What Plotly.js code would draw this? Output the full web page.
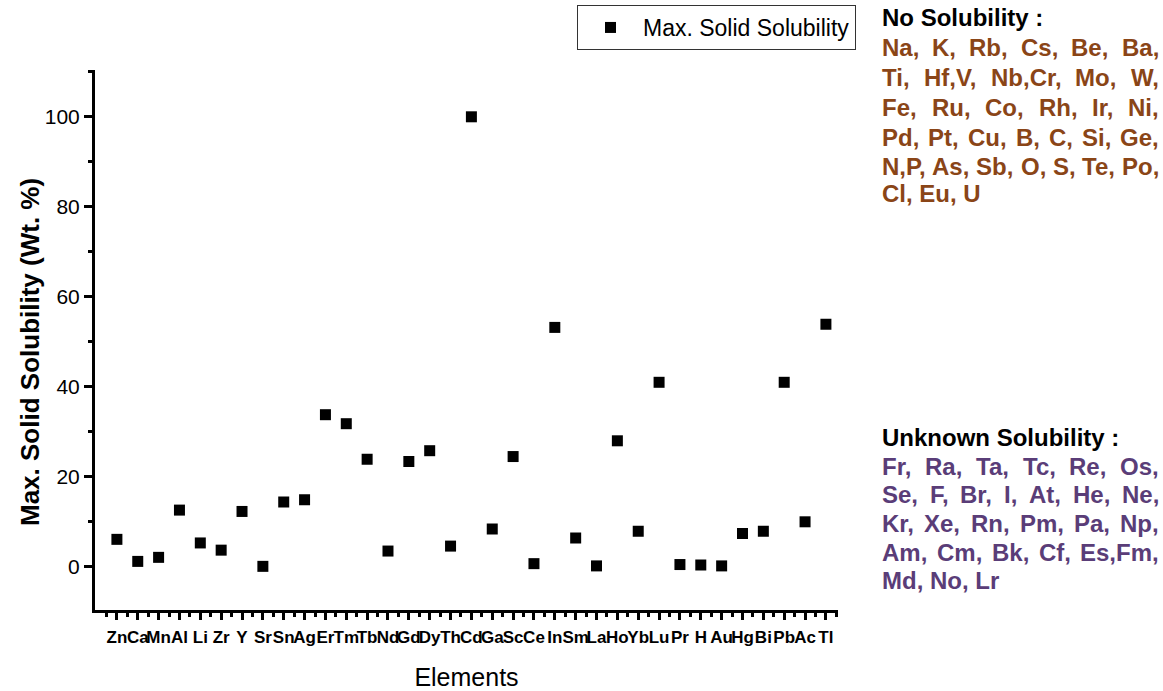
<!DOCTYPE html>
<html>
<head>
<meta charset="utf-8">
<script src="https://cdn.plot.ly/plotly-3.0.1.min.js"></script>
<style>html,body{margin:0;padding:0;background:#fff;}#chart{width:1163px;height:691px;}</style>
</head>
<body>
<div id="chart"></div>
<script>
// Data
const categories = ["Zn","Ca","Mn","Al","Li","Zr","Y","Sr","Sn","Ag","Er","Tm","Tb","Nd","Gd","Dy","Th","Cd","Ga","Sc","Ce","In","Sm","La","Ho","Yb","Lu","Pr","H","Au","Hg","Bi","Pb","Ac","Tl"];
const solubility = [6.1,1.2,2.1,12.6,5.3,3.7,12.3,0.1,14.4,14.9,33.8,31.8,23.9,3.5,23.4,25.8,4.6,100,8.4,24.5,0.7,53.2,6.4,0.2,28.0,7.9,41.0,0.5,0.4,0.2,7.4,7.9,41.0,10.0,53.9];
const seriesName = "Max. Solid Solubility";
const xTitle = "Elements";
const yTitle = "Max. Solid Solubility (Wt. %)";
const noSolTitle = "No Solubility :";
const noSolLines = [
  "Na, K, Rb, Cs, Be, Ba,",
  "Ti, Hf,V, Nb,Cr, Mo, W,",
  "Fe, Ru, Co, Rh, Ir, Ni,",
  "Pd, Pt, Cu, B, C, Si, Ge,",
  "N,P, As, Sb, O, S, Te, Po,",
  "Cl, Eu, U"
];
const unkTitle = "Unknown Solubility :";
const unkLines = [
  "Fr, Ra, Ta, Tc, Re, Os,",
  "Se, F, Br, I, At, He, Ne,",
  "Kr, Xe, Rn, Pm, Pa, Np,",
  "Am, Cm, Bk, Cf, Es,Fm,",
  "Md, No, Lr"
];

// layout geometry (pixels)
const W = 1163, H = 691;
const L = 95, R = 838, T = 70, B = 610;
const px = x => (x - L) / (R - L);
const py = y => (B - y) / (B - T);

const idx = categories.map((c, i) => i);

const trace = {
  type: "scatter", mode: "markers", name: seriesName,
  x: idx, y: solubility,
  marker: {symbol: "square", size: 11, color: "#000"},
  showlegend: true
};

const FONT = "Liberation Sans, Arial, sans-serif";
const brown = "#8a4517";
const purple = "#5a3d78";
const TXT = 24;

const cv = document.createElement("canvas").getContext("2d");
cv.font = "bold " + TXT + "px 'Liberation Sans'";
const measure = s => cv.measureText(s).width;

const annotations = [];
function addText(txt, x, y, color) {
  annotations.push({
    text: "<b>" + txt + "</b>", xref: "paper", yref: "paper", x: px(x), y: py(y),
    xanchor: "left", yanchor: "middle", showarrow: false,
    font: {family: FONT, size: TXT, color: color}
  });
}
const TX0 = 880, TX1 = 1157;
function addJustified(line, y, color, justify) {
  const words = line.split(" ");
  if (!justify || words.length < 2) { addText(line, TX0, y, color); return; }
  const widths = words.map(measure);
  const total = widths.reduce((a, b) => a + b, 0);
  const gap = (TX1 - TX0 - total) / (words.length - 1);
  let x = TX0;
  words.forEach((w, i) => { addText(w, x, y, color); x += widths[i] + gap; });
}
addText(noSolTitle, TX0, 18, "#000");
const noY = [47, 77, 107, 137, 166, 193];
noSolLines.forEach((t, i) => addJustified(t, noY[i], brown, i < noSolLines.length - 1));
addText(unkTitle, TX0, 437, "#000");
const unY = [466, 495, 523, 552, 580];
unkLines.forEach((t, i) => addJustified(t, unY[i], purple, i < unkLines.length - 1));

// y-axis title (placed as rotated text left of the axis)
annotations.push({
  text: "<b>" + yTitle + "</b>", xref: "paper", yref: "paper",
  x: px(30), y: py(352), xanchor: "center", yanchor: "middle",
  textangle: -90, showarrow: false,
  font: {family: FONT, size: 26, color: "#000"}
});

const layout = {
  width: W, height: H,
  margin: {l: L, r: W - R, t: T, b: H - B, pad: 0, autoexpand: false},
  paper_bgcolor: "#fff", plot_bgcolor: "#fff",
  font: {family: FONT, color: "#000"},
  showlegend: true,
  legend: {
    xref: "container", yref: "container",
    x: 577 / W, y: 1 - 5 / H, xanchor: "left", yanchor: "top",
    bordercolor: "#333", borderwidth: 1, bgcolor: "#fff",
    font: {size: 23, family: FONT, color: "#000"},
    itemwidth: 55, tracegroupgap: 0
  },
  xaxis: {
    range: [-1.05, 34.58],
    tickmode: "array", tickvals: idx, ticktext: categories,
    ticks: "outside", ticklen: 7, tickwidth: 3, tickcolor: "#000",
    ticklabelstandoff: 3,
    minor: {tickmode: "linear", tick0: 0.5, dtick: 1, ticks: "outside", ticklen: 4, tickwidth: 3, tickcolor: "#000"},
    showline: true, linewidth: 3, linecolor: "#000",
    showgrid: false, zeroline: false,
    tickfont: {size: 17, family: FONT, weight: "bold"},
    tickangle: 0,
    title: {text: xTitle, font: {size: 25, family: FONT}}
  },
  yaxis: {
    range: [-9.6, 110.4],
    tickmode: "linear", tick0: 0, dtick: 20,
    ticks: "outside", ticklen: 8, tickwidth: 3, tickcolor: "#000",
    minor: {tickmode: "linear", tick0: 10, dtick: 20, ticks: "outside", ticklen: 4, tickwidth: 3, tickcolor: "#000"},
    showline: true, linewidth: 3, linecolor: "#000",
    showgrid: false, zeroline: false,
    tickfont: {size: 21, family: FONT}
  },
  annotations: annotations
};

Plotly.newPlot("chart", [trace], layout, {displayModeBar: false, staticPlot: true});
</script>
</body>
</html>
